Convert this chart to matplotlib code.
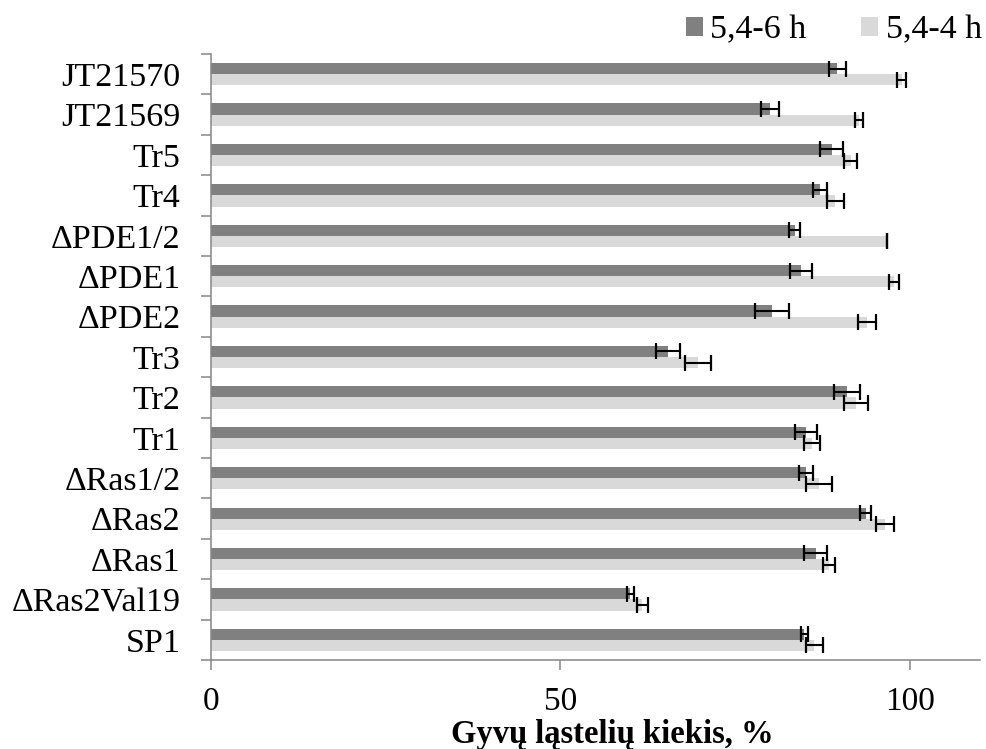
import matplotlib
matplotlib.use("Agg")
import matplotlib.pyplot as plt
import numpy as np
from matplotlib.patches import Patch

plt.rcParams["font.family"] = ["Liberation Serif", "DejaVu Serif"]

# categories listed top to bottom as in the chart
strains = ["JT21570", "JT21569", "Tr5", "Tr4", "ΔPDE1/2", "ΔPDE1", "ΔPDE2",
           "Tr3", "Tr2", "Tr1", "ΔRas1/2", "ΔRas2", "ΔRas1", "ΔRas2Val19", "SP1"]
h6 = [89.6, 80.0, 88.8, 87.1, 83.5, 84.4, 80.3, 65.4, 91.0, 85.1, 85.2, 93.7,
      86.5, 60.0, 84.9]
h6_err = [1.2, 1.3, 1.6, 1.0, 0.8, 1.6, 2.4, 1.7, 1.9, 1.6, 1.0, 0.8, 1.7, 0.5, 0.5]
h4 = [98.8, 92.7, 91.5, 89.3, 96.7, 97.7, 93.9, 69.7, 92.3, 86.0, 87.0, 96.4,
      88.4, 61.7, 86.3]
h4_err = [0.6, 0.6, 0.9, 1.2, 0.0, 0.7, 1.3, 1.9, 1.7, 1.1, 1.8, 1.3, 0.9, 0.8, 1.2]
series_labels = ["5,4-6 h", "5,4-4 h"]
xticks = [0, 50, 100]

DARK, LIGHT, AXIS = "#808080", "#d9d9d9", "#868686"

n = len(strains)
y = np.arange(n)[::-1]  # first strain on top
bh = 0.275

fig = plt.figure(figsize=(9.87, 7.49), dpi=100)
ax = fig.add_axes([0.2138, 0.1188, 0.9927 - 0.2138, 0.9279 - 0.1188])

ekw = dict(ecolor="black", elinewidth=1.5, capsize=6, capthick=1.6)
ax.barh(y + bh / 2, h6, height=bh, color=DARK, xerr=h6_err, error_kw=ekw, zorder=2)
ax.barh(y - bh / 2, h4, height=bh, color=LIGHT, xerr=h4_err, error_kw=ekw, zorder=2)

ax.set_xlim(0, 110)
ax.set_ylim(-0.5, n - 0.5)

# category boundaries carry the tick marks, labels sit at centres
ax.set_yticks(np.arange(n + 1) - 0.5)
ax.set_yticklabels([])
ax.set_yticks(y, minor=True)
ax.set_yticklabels(strains, minor=True, fontsize=24.5)
ax.tick_params(axis="y", which="major", direction="out", length=7.2, width=1.1,
               color=AXIS)
ax.tick_params(axis="y", which="minor", length=0, pad=22)

ax.set_xticks(xticks)
ax.set_xticklabels([str(t) for t in xticks], fontsize=24)
ax.tick_params(axis="x", direction="out", length=7.2, width=1.1, color=AXIS, pad=12)

for sp in ("top", "right"):
    ax.spines[sp].set_visible(False)
for sp in ("left", "bottom"):
    ax.spines[sp].set_color(AXIS)
    ax.spines[sp].set_linewidth(1.1)

fig.text(0.62, 0.008, "Gyvų ląstelių kiekis, %", ha="center", va="baseline",
         fontsize=23.5, fontweight="bold")

handles = [Patch(facecolor=DARK, label=series_labels[0]),
           Patch(facecolor=LIGHT, label=series_labels[1])]
fig.legend(handles=handles, loc="upper right", bbox_to_anchor=(1.026, 1.021),
           ncol=2, frameon=False, fontsize=24.5, handlelength=0.5,
           handleheight=0.5, handletextpad=0.23, columnspacing=1.6)

fig.savefig("out.png", dpi=100)
